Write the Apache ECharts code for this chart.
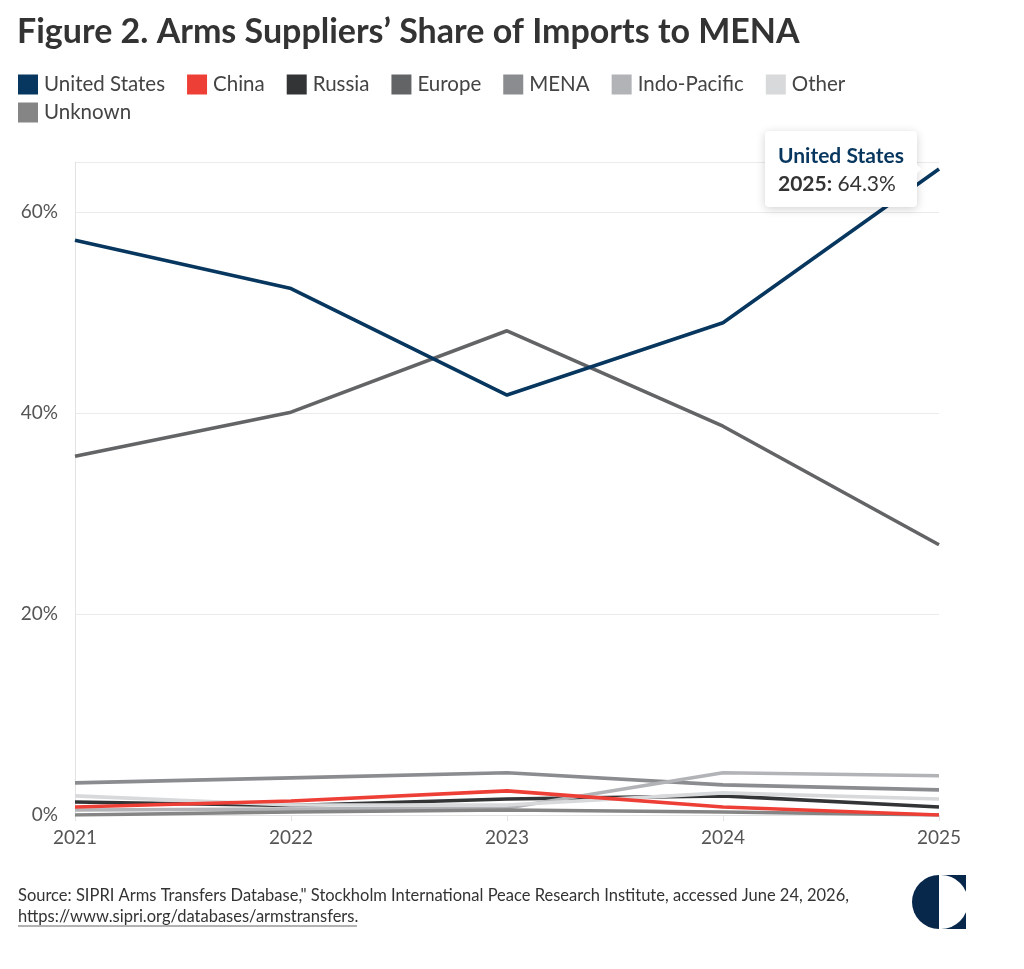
<!DOCTYPE html>
<html>
<head>
<meta charset="utf-8">
<script src="https://cdn.jsdelivr.net/npm/echarts@6/dist/echarts.min.js"></script>
<style>
  html, body { margin: 0; padding: 0; background: #fff; }
  #chart { width: 1024px; height: 969px; }
</style>
</head>
<body>
<div id="chart"></div>
<script>
// values (share of MENA arms imports, %)
var years = ['2021', '2022', '2023', '2024', '2025'];
var unitedStates = [57.2, 52.4, 41.8, 49.0, 64.3];
var china = [0.8, 1.4, 2.4, 0.8, 0.0];
var russia = [1.3, 0.95, 1.6, 1.9, 0.8];
var europe = [35.7, 40.1, 48.2, 38.7, 26.9];
var mena = [3.2, 3.7, 4.2, 3.0, 2.5];
var indoPacific = [0.5, 0.6, 0.7, 4.2, 3.9];
var other = [1.9, 1.0, 1.0, 2.2, 1.6];
var unknown = [0.0, 0.3, 0.5, 0.3, 0.0];
var yTicks = [0, 20, 40, 60];

var seriesNames = ['United States', 'China', 'Russia', 'Europe', 'MENA', 'Indo-Pacific', 'Other', 'Unknown'];
var seriesData = [unitedStates, china, russia, europe, mena, indoPacific, other, unknown];
var colors = ['#07365f', '#ee3f37', '#333436', '#636466', '#8a8c8f', '#b2b3b7', '#d8d9db', '#858585'];
var zOrder = [6, 5, 2, 3, 2, 2, 3, 2];

var FONT = 'Lato';

var series_arr = [];
for (var i = 0; i < seriesNames.length; i++) {
    series_arr.push({
        name: seriesNames[i],
        type: 'line',
        data: seriesData[i],
        // only US keeps (tiny) symbols so the tooltip has something to anchor to
        showSymbol: i === 0,
        symbol: 'circle',
        symbolSize: 0.5,
        z: zOrder[i],
        lineStyle: { width: 3.6, color: colors[i] },
        itemStyle: { color: colors[i] },
        emphasis: { disabled: true }
    });
}

var legendText = { fontFamily: FONT, fontSize: 20.5, color: '#444444', padding: [0, 0, 0, 1] };

var option = {
    animation: false,
    color: colors,
    textStyle: { fontFamily: FONT },
    title: {
        text: 'Figure 2. Arms Suppliers\u2019 Share of Imports to MENA',
        left: 12,
        top: 10,
        textStyle: { fontFamily: FONT, fontSize: 34, fontWeight: 'bold', color: '#333333' }
    },
    legend: [{
        left: 18,
        top: 74,
        padding: 0,
        icon: 'rect',
        itemWidth: 20,
        itemHeight: 20,
        itemGap: 22,
        data: seriesNames.slice(0, 7),
        textStyle: legendText
    }, {
        left: 18,
        top: 102,
        padding: 0,
        icon: 'rect',
        itemWidth: 20,
        itemHeight: 20,
        data: seriesNames.slice(7),
        textStyle: legendText
    }],
    tooltip: {
        trigger: 'item',
        position: 'left',
        alwaysShowContent: true,
        transitionDuration: 0,
        backgroundColor: '#ffffff',
        borderWidth: 0,
        padding: [10, 13],
        extraCssText: 'box-shadow: 0 2px 10px rgba(0,0,0,0.18); border-radius: 4px; margin-left: -14px;',
        formatter: function (p) {
            return '<div style="font-family:Lato;font-weight:bold;font-size:21px;color:#07365f;line-height:28px">' + p.seriesName + '</div>' +
                '<div style="font-family:Lato;font-size:21px;color:#333;line-height:28px"><b>' + p.name + ':</b> ' + p.value.toFixed(1) + '%</div>';
        }
    },
    grid: {
        left: 75,
        right: 85,
        top: 162,
        bottom: 154
    },
    xAxis: {
        type: 'category',
        data: years,
        boundaryGap: false,
        axisLine: { show: true, lineStyle: { color: '#e3e3e3' } },
        axisTick: { show: true, alignWithLabel: true, length: 6, lineStyle: { color: '#e3e3e3' } },
        axisLabel: { fontFamily: FONT, fontSize: 19, color: '#555555', margin: 13 }
    },
    yAxis: {
        type: 'value',
        min: yTicks[0],
        max: 65,
        interval: yTicks[1] - yTicks[0],
        axisLine: { show: true, lineStyle: { color: '#e3e3e3' } },
        axisTick: { show: false },
        splitLine: { lineStyle: { color: '#ebebeb' } },
        axisLabel: {
            fontFamily: FONT, fontSize: 19, color: '#555555', margin: 17,
            formatter: function (v) { return yTicks.indexOf(v) > -1 ? v + '%' : ''; }
        }
    },
    graphic: [
        {
            type: 'text', left: 18, top: 885,
            style: {
                text: 'Source: SIPRI Arms Transfers Database," Stockholm International Peace Research Institute, accessed June 24, 2026,\nhttps://www.sipri.org/databases/armstransfers.',
                fontFamily: FONT, fontSize: 16.5, lineHeight: 21, fill: '#333333'
            }
        },
        { type: 'line', shape: { x1: 18, y1: 926, x2: 357, y2: 926 }, style: { stroke: '#666666', lineWidth: 1 } },
        // logo
        { type: 'rect', shape: { x: 941, y: 875, width: 25, height: 54 }, style: { fill: '#07284b' } },
        { type: 'sector', shape: { cx: 941, cy: 902, r: 27, startAngle: -Math.PI / 2, endAngle: Math.PI / 2 }, style: { fill: '#ffffff' } },
        { type: 'sector', shape: { cx: 939, cy: 902, r: 27, startAngle: Math.PI / 2, endAngle: Math.PI * 1.5 }, style: { fill: '#07284b' } }
    ],
    series: series_arr
};

var myChart = echarts.init(document.getElementById('chart'));
myChart.setOption(option);
myChart.dispatchAction({ type: 'showTip', seriesIndex: 0, dataIndex: 4 });
setTimeout(function () {
    myChart.dispatchAction({ type: 'showTip', seriesIndex: 0, dataIndex: 4 });
}, 50);
</script>
</body>
</html>
